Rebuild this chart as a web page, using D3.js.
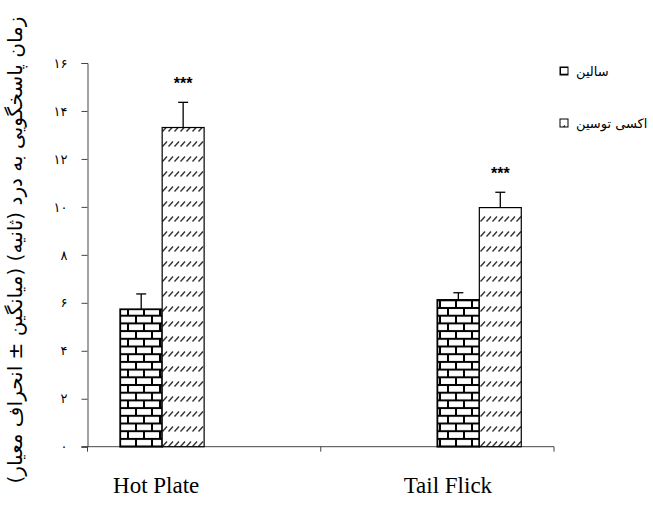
<!DOCTYPE html>
<html>
<head>
<meta charset="utf-8">
<script src="https://cdn.jsdelivr.net/npm/d3@7"></script>
<style>
  body { margin: 0; background: #fff; }
  svg { display: block; }
</style>
</head>
<body>
<div id="chart"></div>
<script>
// Data
const categories = ["Hot Plate", "Tail Flick"];
const seriesNames = ["سالین", "اکسی توسین"];
const meanValues = [
  [5.73, 13.31], // Hot Plate: saline, oxytocin
  [6.12, 9.97],  // Tail Flick
];
const sdValues = [
  [0.64, 1.05],
  [0.30, 0.64],
];
const starLabels = [
  ["", "***"],
  ["", "***"],
];
const yTicks = [0, 2, 4, 6, 8, 10, 12, 14, 16];
const yTitle = "زمان پاسخگویی به درد (ثانیه) (میانگین ± انحراف معیار)";

// Persian digits for the tick labels
const faDigits = "۰۱۲۳۴۵۶۷۸۹";
const toFa = (n) => String(n).replace(/\d/g, (d) => faDigits[+d]);

// Chart dimensions
const W = 653, H = 506;
const plot = { left: 87.5, right: 554, top: 63, bottom: 446.7 };

const svg = d3.select("#chart").append("svg")
  .attr("width", W).attr("height", H);

// Fill patterns
const defs = svg.append("defs");

// brick pattern (saline)
const brick = defs.append("pattern")
  .attr("id", "brick").attr("patternUnits", "userSpaceOnUse")
  .attr("width", 16).attr("height", 15.4);
brick.append("rect").attr("width", 16).attr("height", 15.4).attr("fill", "#000");
brick.append("rect").attr("x", 1).attr("y", 1).attr("width", 14).attr("height", 5.7).attr("fill", "#fff");
brick.append("rect").attr("x", -7).attr("y", 8.7).attr("width", 14).attr("height", 5.7).attr("fill", "#fff");
brick.append("rect").attr("x", 9).attr("y", 8.7).attr("width", 14).attr("height", 5.7).attr("fill", "#fff");

// dashed diagonal pattern (oxytocin)
const hatch = defs.append("pattern")
  .attr("id", "hatch").attr("patternUnits", "userSpaceOnUse")
  .attr("width", 6).attr("height", 15);
hatch.append("rect").attr("width", 6).attr("height", 15).attr("fill", "#fff");
hatch.append("line")
  .attr("x1", 0.5).attr("y1", 11.5).attr("x2", 5).attr("y2", 6.5)
  .attr("stroke", "#333").attr("stroke-width", 1.4);

const fills = ["url(#brick)", "url(#hatch)"];

// Scales - the original places each bar in its own slot (4 slots per group)
const x0 = d3.scaleBand().domain(categories).range([plot.left, plot.right]);
const x1 = d3.scaleBand().domain([0, 1, 2, 3]).range([0, x0.bandwidth()]).paddingOuter(0.78);
const y = d3.scaleLinear().domain([0, 16]).range([plot.bottom, plot.top]);

const slot = (ci, si) => ci * 2 + si;

// Axes
const yAxis = svg.append("g")
  .attr("transform", `translate(${plot.left},0)`)
  .call(d3.axisLeft(y).tickValues(yTicks).tickSize(6).tickPadding(14).tickFormat(toFa));
yAxis.select(".domain").attr("stroke", "#444");
yAxis.selectAll(".tick line").attr("stroke", "#444");
yAxis.selectAll(".tick text")
  .attr("font-family", "DejaVu Sans").attr("font-size", 13).attr("fill", "#000");

const xAxis = svg.append("g")
  .attr("transform", `translate(0,${plot.bottom})`);
xAxis.append("line")
  .attr("x1", plot.left - 6).attr("x2", plot.right)
  .attr("stroke", "#444");
xAxis.selectAll("line.tk")
  .data([...categories.map((c) => x0(c)), plot.right])
  .join("line").attr("class", "tk")
  .attr("x1", (d) => d).attr("x2", (d) => d)
  .attr("y1", 0).attr("y2", 5)
  .attr("stroke", "#444");

// Bars
const bars = [];
categories.forEach((c, ci) => {
  seriesNames.forEach((s, si) => {
    bars.push({ c, ci, si, v: meanValues[ci][si], sd: sdValues[ci][si], star: starLabels[ci][si] });
  });
});

const g = svg.append("g");
g.selectAll("rect.bar")
  .data(bars)
  .join("rect").attr("class", "bar")
  .attr("x", (d) => x0(d.c) + x1(slot(d.ci, d.si)))
  .attr("width", x1.bandwidth())
  .attr("y", (d) => y(d.v))
  .attr("height", (d) => y(0) - y(d.v))
  .attr("fill", (d) => fills[d.si])
  .attr("stroke", "#000")
  .attr("stroke-width", (d) => (d.si === 0 ? 1.8 : 1.2));

// Error bars (upper only)
const cx = (d) => x0(d.c) + x1(slot(d.ci, d.si)) + x1.bandwidth() / 2;
g.selectAll("line.err")
  .data(bars)
  .join("line").attr("class", "err")
  .attr("x1", cx).attr("x2", cx)
  .attr("y1", (d) => y(d.v)).attr("y2", (d) => y(d.v + d.sd))
  .attr("stroke", "#000").attr("stroke-width", 1.3);
g.selectAll("line.cap")
  .data(bars)
  .join("line").attr("class", "cap")
  .attr("x1", (d) => cx(d) - 5).attr("x2", (d) => cx(d) + 5)
  .attr("y1", (d) => y(d.v + d.sd)).attr("y2", (d) => y(d.v + d.sd))
  .attr("stroke", "#000").attr("stroke-width", 1.3);

// Significance stars
g.selectAll("text.star")
  .data(bars.filter((d) => d.star))
  .join("text").attr("class", "star")
  .attr("x", cx)
  .attr("y", (d) => y(d.v + d.sd) - 13)
  .attr("text-anchor", "middle")
  .attr("font-family", "Liberation Sans, Arial").attr("font-weight", "bold")
  .attr("font-size", 16)
  .text((d) => d.star);

// Category labels (placed as text boxes in the original)
svg.selectAll("text.cat")
  .data(categories)
  .join("text").attr("class", "cat")
  .attr("x", (c, i) => (i === 0 ? x0(c) + x1(slot(0, 1)) - 6 : x0(c) + x0.bandwidth() * 0.545))
  .attr("y", 493)
  .attr("text-anchor", "middle")
  .attr("font-family", "Liberation Serif, Times New Roman")
  .attr("font-size", 23)
  .text((c) => c);

// Y axis title
svg.append("text")
  .attr("transform", `translate(22,250) rotate(-90)`)
  .attr("text-anchor", "middle")
  .attr("font-family", "DejaVu Sans")
  .attr("font-size", 20)
  .text(yTitle);

// Legend
const legend = svg.append("g").attr("transform", "translate(560,0)");
const li = legend.selectAll("g")
  .data(seriesNames)
  .join("g")
  .attr("transform", (d, i) => `translate(0,${67 + i * 52})`);
li.append("rect")
  .attr("width", 8).attr("height", 8)
  .attr("fill", (d, i) => fills[i])
  .attr("stroke", "#000").attr("stroke-width", 1);
li.append("text")
  .attr("x", 16).attr("y", 9)
  .attr("font-family", "DejaVu Sans").attr("font-size", 13)
  .text((d) => d);
</script>
</body>
</html>
